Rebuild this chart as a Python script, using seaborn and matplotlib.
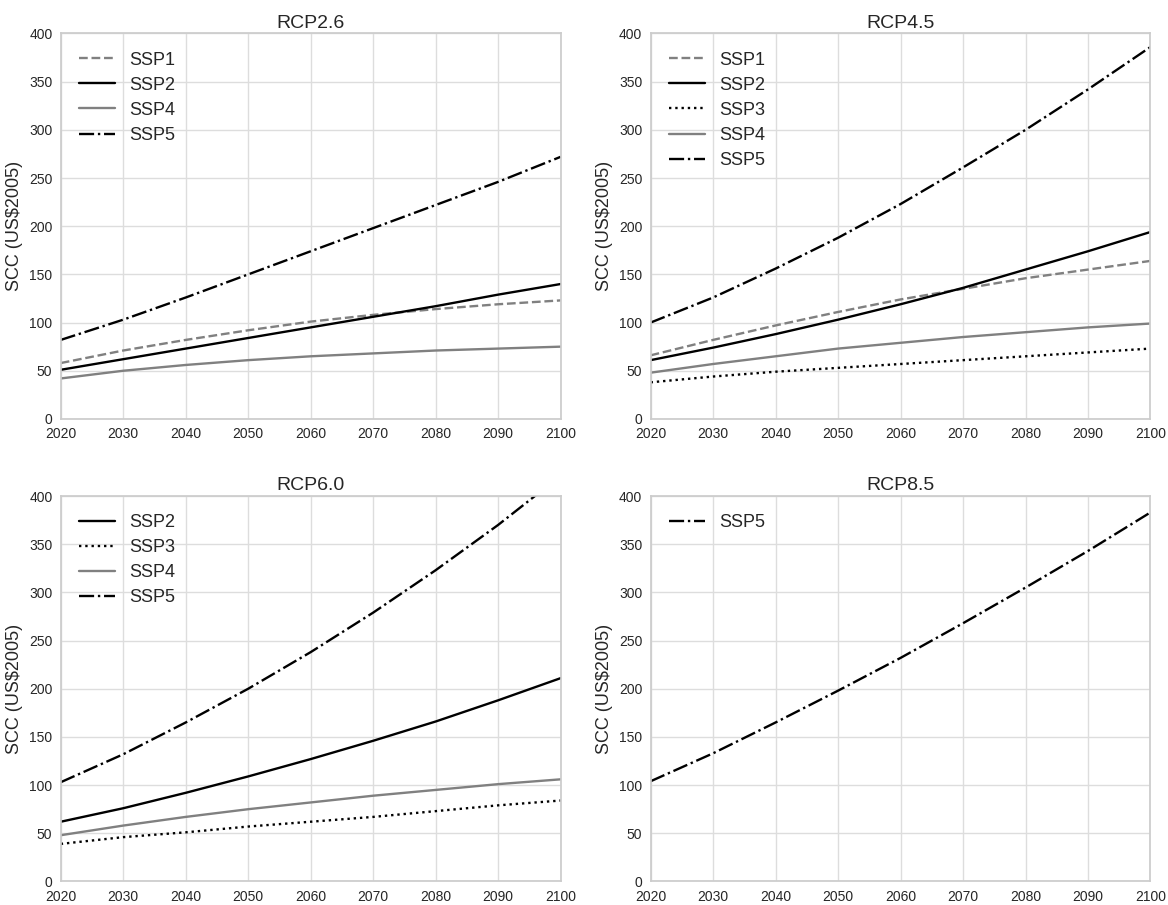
import pandas as pd
import matplotlib.pyplot as plt
import seaborn as sns

years = [2020, 2030, 2040, 2050, 2060, 2070, 2080, 2090, 2100]

# RCP2.6
rcp26_ssp1 = [58, 71, 82, 92, 101, 108, 114, 119, 123]
rcp26_ssp2 = [51, 62, 73, 84, 95, 106, 117, 129, 140]
rcp26_ssp4 = [42, 50, 56, 61, 65, 68, 71, 73, 75]
rcp26_ssp5 = [82, 103, 126, 150, 174, 198, 222, 246, 272]

# RCP4.5
rcp45_ssp1 = [66, 82, 97, 111, 124, 135, 146, 155, 164]
rcp45_ssp2 = [61, 74, 88, 103, 119, 136, 155, 174, 194]
rcp45_ssp3 = [38, 44, 49, 53, 57, 61, 65, 69, 73]
rcp45_ssp4 = [48, 57, 65, 73, 79, 85, 90, 95, 99]
rcp45_ssp5 = [100, 126, 156, 188, 223, 261, 300, 342, 386]

# RCP6.0
rcp60_ssp2 = [62, 76, 92, 109, 127, 146, 166, 188, 211]
rcp60_ssp3 = [39, 46, 51, 57, 62, 67, 73, 79, 84]
rcp60_ssp4 = [48, 58, 67, 75, 82, 89, 95, 101, 106]
rcp60_ssp5 = [103, 132, 165, 200, 238, 279, 323, 370, 421]

# RCP8.5
rcp85_ssp5 = [104, 133, 165, 198, 232, 268, 305, 343, 383]

styles = {
    "SSP1": dict(color="#808080", linestyle="--"),
    "SSP2": dict(color="black", linestyle="-"),
    "SSP3": dict(color="black", linestyle=":"),
    "SSP4": dict(color="#808080", linestyle="-"),
    "SSP5": dict(color="black", linestyle="-."),
}

panels = [
    ("RCP2.6", {"SSP1": rcp26_ssp1, "SSP2": rcp26_ssp2, "SSP4": rcp26_ssp4, "SSP5": rcp26_ssp5}),
    ("RCP4.5", {"SSP1": rcp45_ssp1, "SSP2": rcp45_ssp2, "SSP3": rcp45_ssp3, "SSP4": rcp45_ssp4, "SSP5": rcp45_ssp5}),
    ("RCP6.0", {"SSP2": rcp60_ssp2, "SSP3": rcp60_ssp3, "SSP4": rcp60_ssp4, "SSP5": rcp60_ssp5}),
    ("RCP8.5", {"SSP5": rcp85_ssp5}),
]

sns.set_theme(style="whitegrid")
plt.rcParams['font.family'] = ['Liberation Sans', 'DejaVu Sans']
plt.rcParams['axes.edgecolor'] = '#cccccc'
plt.rcParams['grid.color'] = '#dddddd'

fig, axes = plt.subplots(2, 2, figsize=(11.68, 9.05), dpi=100)
fig.subplots_adjust(left=0.052, right=0.985, top=0.963, bottom=0.026, wspace=0.18, hspace=0.2)

for ax, (title, series) in zip(axes.flat, panels):
    for name, vals in series.items():
        df = pd.DataFrame({"year": years, "scc": vals})
        sns.lineplot(data=df, x="year", y="scc", ax=ax, label=name, linewidth=1.7, **styles[name])
    ax.set_xlim(2020, 2100)
    ax.set_ylim(0, 400)
    ax.set_xticks(range(2020, 2101, 10))
    ax.set_yticks(range(0, 401, 50))
    ax.tick_params(labelsize=10, pad=0)
    ax.set_title(title, fontsize=14, pad=4)
    ax.set_xlabel("")
    ax.set_ylabel("SCC (US\\$2005)", fontsize=13)
    ax.legend(loc="upper left", frameon=False, fontsize=13, handlelength=2.0,
              borderaxespad=0.6, labelspacing=0.45)

plt.savefig("out.png", dpi=100)
